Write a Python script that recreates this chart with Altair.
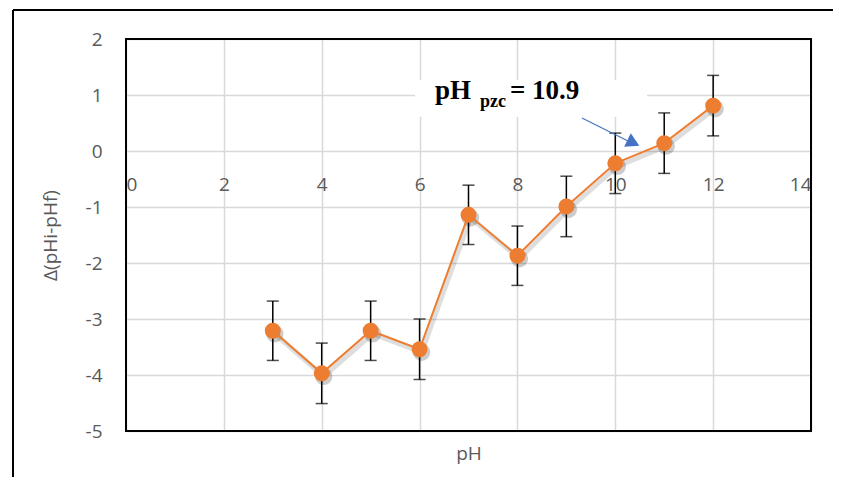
import altair as alt
import pandas as pd

# ---- data ----
ph = [3, 4, 5, 6, 7, 8, 9, 10, 11, 12]
delta = [-3.21, -3.97, -3.21, -3.54, -1.14, -1.87, -0.99, -0.22, 0.14, 0.81]
err = [0.53, 0.54, 0.53, 0.54, 0.53, 0.53, 0.54, 0.54, 0.54, 0.54]

x_ticks = [0, 2, 4, 6, 8, 10, 12, 14]
y_ticks = [-5, -4, -3, -2, -1, 0, 1, 2]

# annotation (data coordinates)
box_x = [5.91, 10.65]
box_y = [0.61, 1.27]
label_x = [6.315]
label_y = [0.93]
arrow_x = [9.32, 10.26]
arrow_y = [0.59, 0.18]
head_x = [10.37]
head_y = [0.145]

df = pd.DataFrame({
    "pH": ph,
    "d": delta,
    "lo": [v - e for v, e in zip(delta, err)],
    "hi": [v + e for v, e in zip(delta, err)],
})

W, H = 685, 392
FONT = "Open Sans"
GRAY = "#595959"
ORANGE = "#ED7D31"

xs = alt.Scale(domain=[0, 14], nice=False)
ys = alt.Scale(domain=[-5, 2], nice=False)

xaxis = alt.Axis(values=x_ticks, offset=-280, domain=False, ticks=False, tickSize=0,
                 labelPadding=24, labelFontSize=19, labelColor=GRAY, labelFont=FONT,
                 grid=True, gridColor="#d9d9d9", gridWidth=1.5,
                 title="pH", titleFont=FONT, titleFontSize=19, titleFontWeight="normal",
                 titleColor=GRAY, titleX=W / 2, titleY=302, titleBaseline="middle",
                 titleAnchor="middle")
yaxis = alt.Axis(values=y_ticks, domain=False, ticks=False, tickSize=0,
                 labelPadding=24, labelFontSize=19, labelColor=GRAY, labelFont=FONT,
                 labelExpr="'' + datum.value",
                 grid=True, gridColor="#d9d9d9", gridWidth=1.5,
                 title="Δ(pHi-pHf)", titleFont=FONT, titleFontSize=19,
                 titleFontWeight="normal", titleColor=GRAY, titleX=-66, titleY=H / 2)

base = alt.Chart(df)

one = pd.DataFrame({"a": [0]})
frame_top = alt.Chart(one).mark_rule(color="black", strokeWidth=2).encode(
    x=alt.value(-113), x2=alt.value(760), y=alt.value(-29))
frame_left = alt.Chart(one).mark_rule(color="black", strokeWidth=2).encode(
    x=alt.value(-113), y=alt.value(-29), y2=alt.value(500))

box = alt.Chart(pd.DataFrame({"x": [box_x[0]], "x2": [box_x[1]],
                              "y": [box_y[0]], "y2": [box_y[1]]})).mark_rect(
    fill="white").encode(x=alt.X("x:Q", scale=xs, axis=xaxis),
                         x2="x2:Q",
                         y=alt.Y("y:Q", scale=ys, axis=yaxis), y2="y2:Q")

border = alt.Chart(one).mark_rect(filled=False, stroke="black", strokeWidth=2).encode(
    x=alt.value(0), x2=alt.value(W), y=alt.value(0), y2=alt.value(H))

line_shadow = base.mark_line(color="#000000", opacity=0.13, strokeWidth=5,
                             xOffset=2, yOffset=3).encode(
    x=alt.X("pH:Q", scale=xs), y=alt.Y("d:Q", scale=ys))
pt_shadow = base.mark_circle(color="#000000", opacity=0.2, size=300,
                             xOffset=2, yOffset=3).encode(
    x=alt.X("pH:Q", scale=xs), y=alt.Y("d:Q", scale=ys))

bars = base.mark_rule(color="black", strokeWidth=1.5).encode(
    x=alt.X("pH:Q", scale=xs), y=alt.Y("lo:Q", scale=ys), y2="hi:Q")
cap_lo = base.mark_tick(color="black", orient="horizontal", size=12, thickness=1.5).encode(
    x=alt.X("pH:Q", scale=xs), y=alt.Y("lo:Q", scale=ys))
cap_hi = base.mark_tick(color="black", orient="horizontal", size=12, thickness=1.5).encode(
    x=alt.X("pH:Q", scale=xs), y=alt.Y("hi:Q", scale=ys))

line = base.mark_line(color=ORANGE, strokeWidth=2).encode(
    x=alt.X("pH:Q", scale=xs), y=alt.Y("d:Q", scale=ys))
pts = base.mark_circle(color=ORANGE, opacity=1, size=254).encode(
    x=alt.X("pH:Q", scale=xs), y=alt.Y("d:Q", scale=ys))

arrow = alt.Chart(pd.DataFrame({"x": [arrow_x[0]], "x2": [arrow_x[1]],
                                "y": [arrow_y[0]], "y2": [arrow_y[1]]})).mark_rule(
    color="#4472C4", strokeWidth=1.2).encode(
    x=alt.X("x:Q", scale=xs), x2="x2:Q", y=alt.Y("y:Q", scale=ys), y2="y2:Q")
head = alt.Chart(pd.DataFrame({"x": head_x, "y": head_y})).mark_point(
    shape="triangle-right", angle=26, filled=True, color="#4472C4", opacity=1,
    size=230).encode(x=alt.X("x:Q", scale=xs), y=alt.Y("y:Q", scale=ys))

lab_df = pd.DataFrame({"x": label_x, "y": label_y})
t1 = alt.Chart(lab_df).mark_text(text="pH", font="Liberation Serif", fontWeight="bold",
                                  fontSize=27, align="left", baseline="alphabetic",
                                  color="black").encode(
    x=alt.X("x:Q", scale=xs), y=alt.Y("y:Q", scale=ys))
t2 = alt.Chart(lab_df).mark_text(text="pzc", font="Liberation Serif", fontWeight="bold",
                                  fontSize=18, align="left", baseline="alphabetic",
                                  dx=45, dy=8, color="black").encode(
    x=alt.X("x:Q", scale=xs), y=alt.Y("y:Q", scale=ys))
t3 = alt.Chart(lab_df).mark_text(text="= 10.9", font="Liberation Serif", fontWeight="bold",
                                  fontSize=27, align="left", baseline="alphabetic",
                                  dx=75, color="black").encode(
    x=alt.X("x:Q", scale=xs), y=alt.Y("y:Q", scale=ys))

chart = alt.layer(frame_top, frame_left, box, border, line_shadow, pt_shadow, bars,
                  cap_lo, cap_hi, line, pts, arrow, head, t1, t2, t3).properties(
    width=W, height=H,
    autosize=alt.AutoSizeParams(type="none"),
    padding={"left": 118, "top": 31, "right": 22, "bottom": 46},
).configure_view(strokeWidth=0).configure(background="white")

chart.save("out.html", embed_options={"renderer": "svg", "actions": False})
